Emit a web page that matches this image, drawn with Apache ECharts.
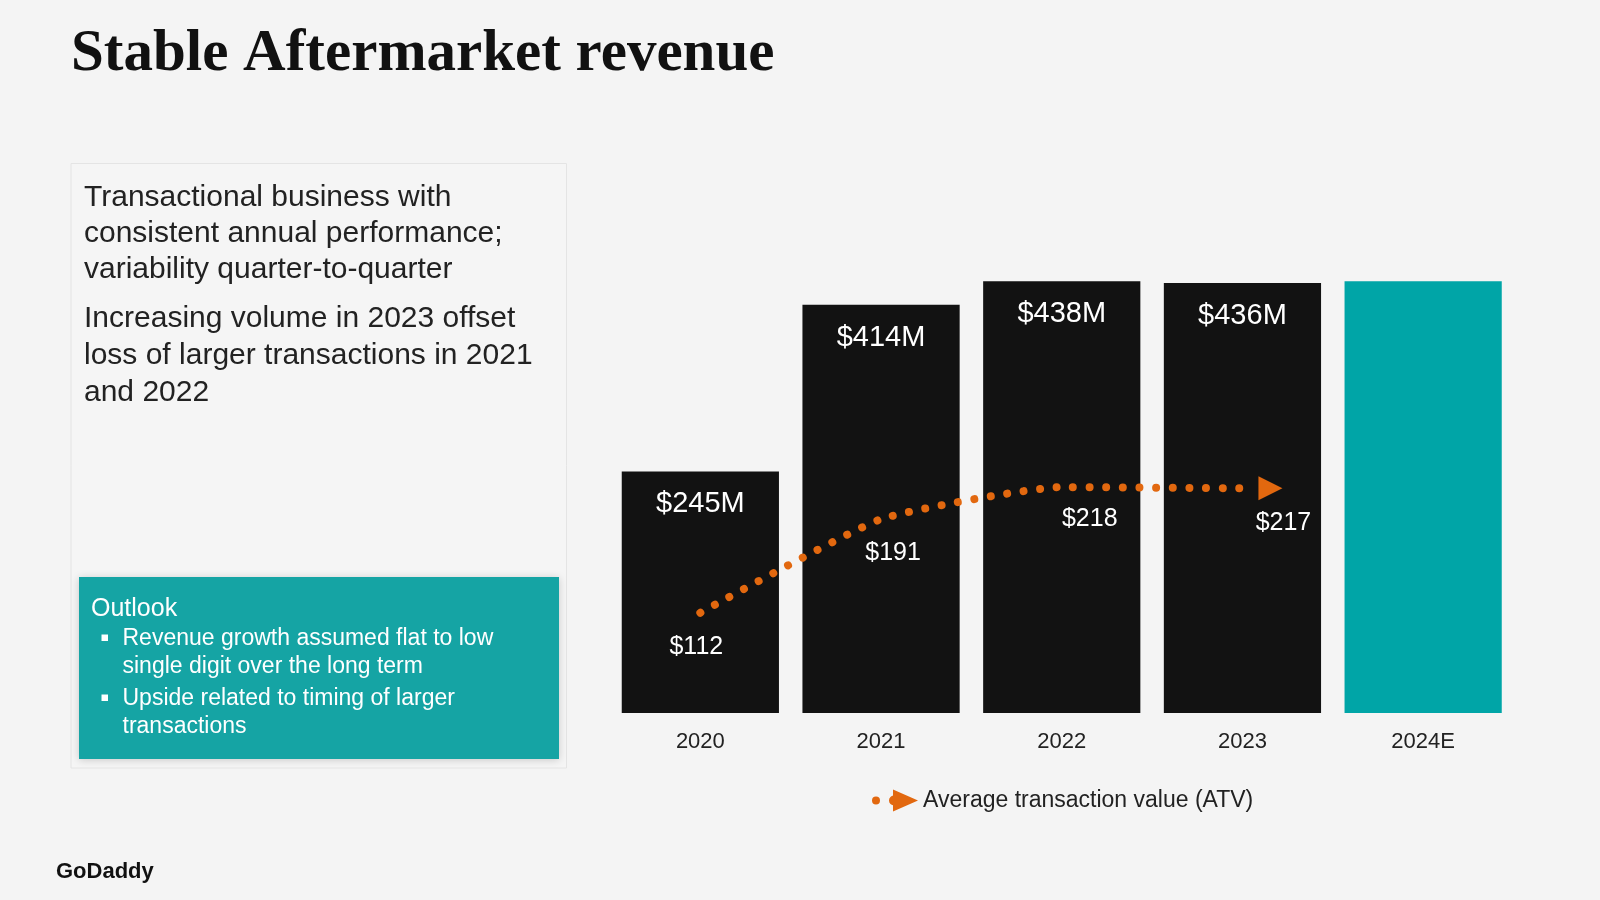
<!DOCTYPE html>
<html>
<head>
<meta charset="utf-8">
<script src="https://cdn.jsdelivr.net/npm/echarts@6/dist/echarts.min.js"></script>
<style>
html,body{margin:0;padding:0;background:#f4f4f4;}
#c{width:1600px;height:900px;}
</style>
</head>
<body>
<div id="c"></div>
<script>
// ---------- data ----------
const categories = ['2020', '2021', '2022', '2023', '2024E'];
const revenue = [245, 414, 438, 436, 438];
const revenueLabelShown = [true, true, true, true, false];
const isEstimate = [false, false, false, false, true];
const atv = [112, 191, 218, 217];
const titleText = 'Stable Aftermarket revenue';
const paragraph1 = ['Transactional business with', 'consistent annual performance;', 'variability quarter-to-quarter'];
const paragraph2 = ['Increasing volume in 2023 offset', 'loss of larger transactions in 2021', 'and 2022'];
const outlookTitle = 'Outlook';
const outlookBullets = [
  ['Revenue growth assumed flat to low', 'single digit over the long term'],
  ['Upside related to timing of larger', 'transactions']
];
const legendName = 'Average transaction value (ATV)';
const logoText = 'GoDaddy';

// ---------- style ----------
const FONT = '"Liberation Sans", Arial, sans-serif';
const BLACK = '#121212';
const TEAL_BAR = '#00a5a7';
const TEAL_BOX = '#15a4a4';
const ORANGE = '#e2680f';
const TEXT = '#222222';
const atvLabelOffsets = [[-4, 4], [12, 4], [28, 2], [13, -7]];

const chart = echarts.init(document.getElementById('c'), null, {renderer: 'canvas'});

const graphics = [];
// title
graphics.push({type: 'text', x: 71, y: 55, style: {text: titleText, font: 'bold 59px "Liberation Serif", "Times New Roman", serif', fill: '#111', verticalAlign: 'middle'}});
// left panel
graphics.push({type: 'rect', shape: {x: 71, y: 163.5, width: 495.5, height: 604.5}, style: {fill: '#f5f5f5', stroke: '#e4e4e4', lineWidth: 1}});
graphics.push({type: 'rect', shape: {x: 79, y: 577, width: 480, height: 182}, style: {fill: TEAL_BOX, shadowBlur: 8, shadowColor: 'rgba(0,0,0,0.18)', shadowOffsetY: 1}});
const p1y = [198, 234, 270];
paragraph1.forEach((t, i) => graphics.push({type: 'text', x: 84, y: p1y[i], style: {text: t, font: '30px ' + FONT, fill: TEXT, verticalAlign: 'middle'}}));
const p2y = [319, 356, 392.5];
paragraph2.forEach((t, i) => graphics.push({type: 'text', x: 84, y: p2y[i], style: {text: t, font: '30px ' + FONT, fill: TEXT, verticalAlign: 'middle'}}));
graphics.push({type: 'text', x: 91, y: 609, style: {text: outlookTitle, font: '25px ' + FONT, fill: '#fff', verticalAlign: 'middle'}});
const by = [[638.5, 666.5], [698.5, 726.5]];
outlookBullets.forEach((lines, bi) => {
  graphics.push({type: 'rect', shape: {x: 101.5, y: by[bi][0] - 4, width: 6.5, height: 6.5}, style: {fill: '#fff'}});
  lines.forEach((t, li) => graphics.push({type: 'text', x: 122.5, y: by[bi][li], style: {text: t, font: '23px ' + FONT, fill: '#fff', verticalAlign: 'middle'}}));
});
// logo
graphics.push({type: 'text', x: 56, y: 872, style: {text: logoText, font: 'bold 22px ' + FONT, fill: '#111', verticalAlign: 'middle'}});

const option = {
  backgroundColor: '#f4f4f4',
  animation: false,
  textStyle: {fontFamily: FONT},
  grid: {left: 610, right: 86.5, top: 220, bottom: 187, containLabel: false, outerBoundsMode: 'none'},
  legend: {
    left: 867, top: 784,
    itemWidth: 46, itemHeight: 24, itemGap: 10,
    textStyle: {fontSize: 23, color: '#222', fontFamily: FONT},
    data: [{
      name: legendName,
      icon: 'path://M0,12a4,4 0 1,1 8,0a4,4 0 1,1 -8,0Z M17,12a5,5 0 1,1 10,0a5,5 0 1,1 -10,0Z M21,1L46,12L21,23Z',
      itemStyle: {color: ORANGE, borderWidth: 0}
    }]
  },
  xAxis: {
    type: 'category',
    data: categories,
    axisLine: {show: false},
    axisTick: {show: false},
    axisLabel: {fontSize: 22, color: '#222', margin: 18, fontFamily: FONT}
  },
  yAxis: [
    {type: 'value', min: 0, max: 500, show: false},
    {type: 'value', min: 27.4, max: 443.4, show: false}
  ],
  series: [
    {
      type: 'bar',
      name: 'Revenue',
      barCategoryGap: '13%',
      data: revenue.map((v, i) => ({
        value: v,
        itemStyle: {color: isEstimate[i] ? TEAL_BAR : BLACK},
        label: {show: revenueLabelShown[i]}
      })),
      label: {
        show: true, position: 'insideTop', distance: 18.5,
        color: '#fff', fontSize: 29, fontFamily: FONT,
        formatter: p => '$' + p.value + 'M'
      },
      silent: true
    },
    {
      type: 'line',
      name: legendName,
      yAxisIndex: 1,
      smooth: 0.15,
      symbol: 'circle',
      symbolSize: 1,
      itemStyle: {color: 'rgba(0,0,0,0)', borderWidth: 0},
      lineStyle: {color: ORANGE, width: 8, type: [0.01, 16.6], cap: 'round'},
      label: {
        show: true, position: 'bottom', distance: 17,
        color: '#fff', fontSize: 25, fontFamily: FONT,
        formatter: p => '$' + p.value
      },
      data: atv.map((v, i) => {
        const item = {value: v, label: {offset: atvLabelOffsets[i]}};
        if (i === atv.length - 1) {
          item.symbol = 'path://M0,0L10,5L0,10Z';
          item.symbolSize = [24, 24];
          item.symbolOffset = [28, 0];
          item.itemStyle = {color: ORANGE};
        }
        return item;
      }),
      z: 5,
      silent: true
    }
  ],
  graphic: graphics
};
chart.setOption(option);
</script>
</body>
</html>
